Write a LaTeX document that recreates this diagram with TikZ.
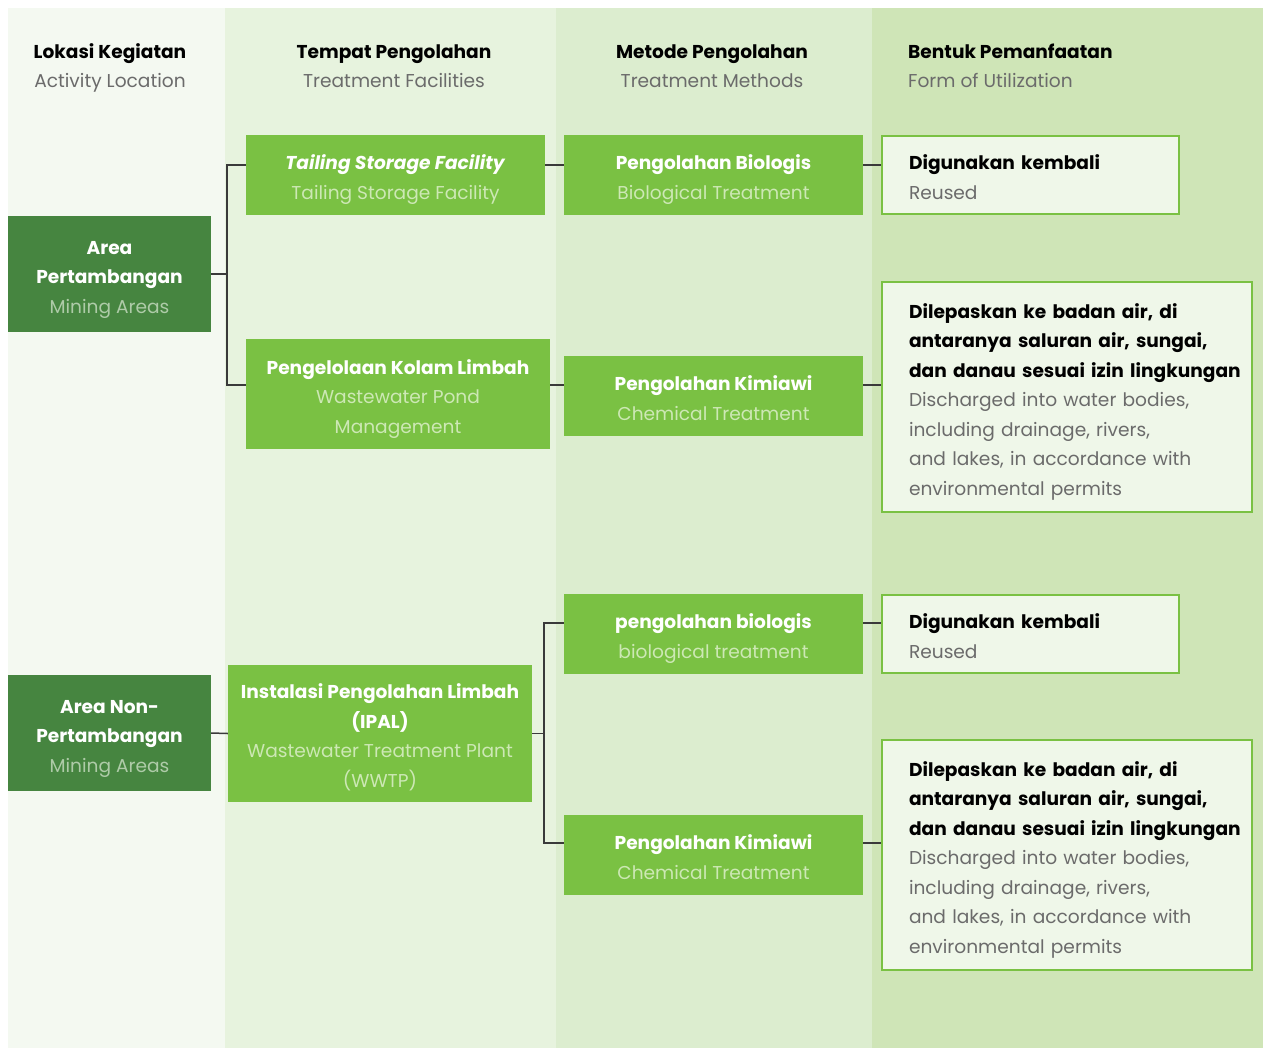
\documentclass[tikz,border=0pt]{standalone}
\usepackage{fontspec}
\setmainfont{Poppins}
\usetikzlibrary{calc}
\definecolor{colA}{HTML}{F4F9F1}
\definecolor{colB}{HTML}{E7F3DE}
\definecolor{colC}{HTML}{DCEDCF}
\definecolor{colD}{HTML}{CFE5B7}
\definecolor{darkg}{HTML}{468540}
\definecolor{lightg}{HTML}{7AC143}
\definecolor{outfill}{HTML}{EFF7E9}
\definecolor{gsubc}{HTML}{CDE8B5}
\definecolor{dsubc}{HTML}{AECBA8}
\definecolor{grayt}{HTML}{6B6B6B}
\definecolor{linec}{HTML}{3A3A3A}
\newcommand\gsub[1]{{\mdseries\color{gsubc}#1}}
\newcommand\dsub[1]{{\mdseries\color{dsubc}#1}}
\newcommand\tsub[1]{{\mdseries\color{grayt}#1}}
\newcommand\tp{\rule{0pt}{26pt}}
\newcommand\bt{\rule[-7pt]{0pt}{7pt}}
\tikzset{
  basefont/.style={font=\fontsize{18.6}{29.5}\selectfont\bfseries},
  gbox/.style={basefont, fill=lightg, draw=none, text=white, align=center, inner sep=0pt},
  dbox/.style={basefont, fill=darkg, draw=none, text=white, align=center, inner sep=0pt},
  obox/.style={basefont, fill=outfill, draw=lightg, line width=2.5pt, text=black, align=left, inner xsep=27pt, inner ysep=0pt},
  hdr/.style={basefont, text=black, inner sep=0pt},
  conn/.style={draw=linec, line width=1.5pt},
}
\begin{document}
\hyphenpenalty=10000 \exhyphenpenalty=10000
\begin{tikzpicture}[x=1pt,y=-1pt]
\useasboundingbox (0,0) rectangle (1263,1049);
\fill[white] (0,0) rectangle (1263,1049);
\fill[colA] (8,8) rectangle (225,1048);
\fill[colB] (225,8) rectangle (556,1048);
\fill[colC] (556,8) rectangle (872,1048);
\fill[colD] (872,8) rectangle (1263,1048);

% headers
\node[hdr, align=center] (h1) at (110,63.5) {\tp Lokasi Kegiatan\\\tsub{Activity Location}\bt};
\node[hdr, align=center] (h2) at (394,63.5) {\tp Tempat Pengolahan\\\tsub{Treatment Facilities}\bt};
\node[hdr, align=center] (h3) at (712,63.5) {\tp Metode Pengolahan\\\tsub{Treatment Methods}\bt};
\node[hdr, align=left, anchor=west] (h4) at (908,63.5) {\tp Bentuk Pemanfaatan\\\tsub{Form of Utilization}\bt};

% column 1
\node[dbox, minimum width=203pt, minimum height=116pt] (ap) at (109.5,274) {\tp Area\\Pertambangan\\\dsub{Mining Areas}\bt};
\node[dbox, minimum width=203pt, minimum height=116pt] (non) at (109.5,733) {\tp Area Non-\\Pertambangan\\\dsub{Mining Areas}\bt};

% column 2
\node[gbox, minimum width=299pt, minimum height=80pt] (tsf) at (395.5,175) {\tp\textit{Tailing Storage Facility}\\\gsub{Tailing Storage Facility}\bt};
\node[gbox, minimum width=304pt, minimum height=110pt] (kolam) at (398,394) {\tp Pengelolaan Kolam Limbah\\\gsub{Wastewater Pond}\\\gsub{Management}\bt};
\node[gbox, minimum width=304pt, minimum height=137pt] (ipal) at (380,733.5) {\tp Instalasi Pengolahan Limbah\\(IPAL)\\\gsub{Wastewater Treatment Plant}\\\gsub{(WWTP)}\bt};

% column 3
\node[gbox, minimum width=299pt, minimum height=80pt] (bio1) at (713.5,175) {\tp Pengolahan Biologis\\\gsub{Biological Treatment}\bt};
\node[gbox, minimum width=299pt, minimum height=80pt] (kim1) at (713.5,396) {\tp Pengolahan Kimiawi\\\gsub{Chemical Treatment}\bt};
\node[gbox, minimum width=299pt, minimum height=80pt] (bio2) at (713.5,634) {\tp pengolahan biologis\\\gsub{biological treatment}\bt};
\node[gbox, minimum width=299pt, minimum height=80pt] (kim2) at (713.5,855) {\tp Pengolahan Kimiawi\\\gsub{Chemical Treatment}\bt};

% column 4
\node[obox, text width=243pt, minimum height=78pt] (dig1) at (1030.5,175) {\tp Digunakan~kembali\\\tsub{Reused}\bt};
\node[obox, text width=316pt, minimum height=230pt] (dil1) at (1067,397) {\tp Dilepaskan~ke~badan~air,~di\\antaranya~saluran~air,~sungai,\\dan~danau~sesuai~izin~lingkungan\\\tsub{Discharged~into~water~bodies,}\\\tsub{including~drainage,~rivers,}\\\tsub{and~lakes,~in~accordance~with}\\\tsub{environmental~permits}\bt};
\node[obox, text width=243pt, minimum height=78pt] (dig2) at (1030.5,634) {\tp Digunakan~kembali\\\tsub{Reused}\bt};
\node[obox, text width=316pt, minimum height=230pt] (dil2) at (1067,855) {\tp Dilepaskan~ke~badan~air,~di\\antaranya~saluran~air,~sungai,\\dan~danau~sesuai~izin~lingkungan\\\tsub{Discharged~into~water~bodies,}\\\tsub{including~drainage,~rivers,}\\\tsub{and~lakes,~in~accordance~with}\\\tsub{environmental~permits}\bt};

% connectors
\coordinate (j1) at (227,274);
\coordinate (j2) at (544,733.5);
\draw[conn] (ap.east) -- (j1);
\draw[conn] ($(tsf.west)+(0,-10)$) -| (j1) |- ($(kolam.west)+(0,-9)$);
\draw[conn] ($(tsf.east)+(0,-10)$) -- ($(bio1.west)+(0,-10)$);
\draw[conn] ($(kolam.east)+(0,-9)$) -- ($(kim1.west)+(0,-11)$);
\draw[conn] ($(bio1.east)+(0,-10)$) -- ($(dig1.west)+(0,-10)$);
\draw[conn] ($(kim1.east)+(0,-11)$) -- ($(dil1.west)+(0,-12)$);
\draw[conn] (non.east) -- (ipal.west);
\draw[conn] (ipal.east) -- (j2);
\draw[conn] ($(bio2.west)+(0,-11)$) -| (j2) |- ($(kim2.west)+(0,-12)$);
\draw[conn] ($(bio2.east)+(0,-11)$) -- ($(dig2.west)+(0,-11)$);
\draw[conn] ($(kim2.east)+(0,-12)$) -- ($(dil2.west)+(0,-12)$);
\end{tikzpicture}
\end{document}
